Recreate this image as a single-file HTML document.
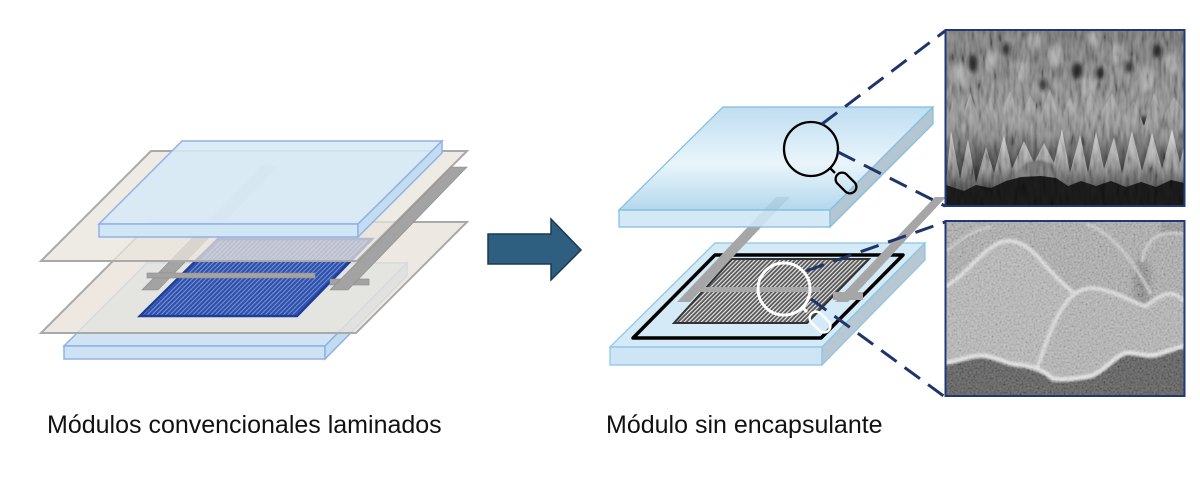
<!DOCTYPE html>
<html><head><meta charset="utf-8">
<style>
html,body{margin:0;padding:0;background:#fff;}
body{width:1200px;height:496px;overflow:hidden;position:relative;}
svg{position:absolute;left:0;top:0;}
.t{font-family:"Liberation Sans",Arial,sans-serif;font-size:25px;fill:#111;}
</style></head><body>
<svg width="1200" height="496" viewBox="0 0 1200 496" xmlns="http://www.w3.org/2000/svg">
<defs>
  <pattern id="blueStripes" width="3.2" height="10" patternUnits="userSpaceOnUse" patternTransform="rotate(45)">
    <rect width="3.2" height="10" fill="#2f50aa"/>
    <rect width="1" height="10" fill="#7894d8"/>
  </pattern>
  <pattern id="grayStripes" width="3" height="10" patternUnits="userSpaceOnUse" patternTransform="rotate(45)">
    <rect width="3" height="10" fill="#555"/>
    <rect width="1.2" height="10" fill="#e6e6e6"/>
  </pattern>
  <linearGradient id="topGlassR" x1="0" y1="0" x2="0" y2="1">
    <stop offset="0" stop-color="#b3d8ee"/>
    <stop offset="0.55" stop-color="#e6f3fa"/>
    <stop offset="1" stop-color="#a6d1ea"/>
  </linearGradient>
  <linearGradient id="g1bg" x1="0" y1="0" x2="0" y2="1">
    <stop offset="0" stop-color="#707070"/>
    <stop offset="0.35" stop-color="#808080"/>
    <stop offset="0.6" stop-color="#878787"/>
    <stop offset="0.8" stop-color="#404040"/>
    <stop offset="0.88" stop-color="#1c1c1c"/>
    <stop offset="1" stop-color="#141414"/>
  </linearGradient>
  <linearGradient id="g1mid" gradientUnits="userSpaceOnUse" x1="0" y1="58" x2="0" y2="148">
    <stop offset="0" stop-color="#a4a4a4"/>
    <stop offset="0.5" stop-color="#7c7c7c"/>
    <stop offset="1" stop-color="#2a2a2a"/>
  </linearGradient>
  <linearGradient id="g1front" gradientUnits="userSpaceOnUse" x1="0" y1="98" x2="0" y2="155">
    <stop offset="0" stop-color="#cdcdcd"/>
    <stop offset="0.5" stop-color="#999"/>
    <stop offset="1" stop-color="#505050"/>
  </linearGradient>
  <clipPath id="c1"><rect x="0" y="0" width="238" height="175"/></clipPath>
  <clipPath id="c2"><rect x="0" y="0" width="238" height="174"/></clipPath>
  <filter id="bl2" x="-50%" y="-50%" width="200%" height="200%"><feGaussianBlur stdDeviation="2"/></filter>
  <filter id="bl3" x="-50%" y="-50%" width="200%" height="200%"><feGaussianBlur stdDeviation="4"/></filter>
  <filter id="bl1" x="-20%" y="-20%" width="140%" height="140%"><feGaussianBlur stdDeviation="1"/></filter>
  <filter id="nz1" x="0" y="0" width="100%" height="100%">
    <feTurbulence type="fractalNoise" baseFrequency="0.25 0.06" numOctaves="2" seed="5"/>
    <feColorMatrix type="matrix" values="1.6 0 0 0 -0.3  1.6 0 0 0 -0.3  1.6 0 0 0 -0.3  0 0 0 0 1"/>
  </filter>
  <filter id="nz2" x="0" y="0" width="100%" height="100%">
    <feTurbulence type="fractalNoise" baseFrequency="0.5" numOctaves="2" seed="9"/>
    <feColorMatrix type="matrix" values="1.6 0 0 0 -0.3  1.6 0 0 0 -0.3  1.6 0 0 0 -0.3  0 0 0 0 1"/>
  </filter>
</defs>

<!-- ================= LEFT DIAGRAM ================= -->
<polygon points="147,263 407,263 325,346 64,346" fill="#cfe4f3" stroke="#93b0e6" stroke-width="1.5"/>
<polygon points="64,346 325,346 325,359 64,359" fill="#cde3f3" stroke="#93b0e6" stroke-width="1.5"/>
<polygon points="325,346 407,263 407,276 325,359" fill="#c2dcef" stroke="#93b0e6" stroke-width="1.5"/>
<polygon points="152,222 467,222 356,333 41,333" fill="#e9e4db" fill-opacity="0.8" stroke="#a9a9a9" stroke-width="2"/>
<polygon points="218,239 372,239 297,316 140,316" fill="url(#blueStripes)" stroke="#1e3c9a" stroke-width="2.5"/>
<polygon points="262,166 278,166 158,290 142,290" fill="#a3a3a3" stroke="#8a8a8a" stroke-width="0.6"/>
<rect x="147" y="273" width="168" height="5" fill="#a3a3a3" stroke="#8a8a8a" stroke-width="0.6"/>
<polygon points="151,151 467,151 357,261 41,261" fill="#e9e4db" fill-opacity="0.76" stroke="#a9a9a9" stroke-width="2"/>
<rect x="330" y="279" width="39" height="6" fill="#a3a3a3" stroke="#8a8a8a" stroke-width="0.6"/>
<polygon points="451,167 467,167 348,290 330,290" fill="#a3a3a3" stroke="#8a8a8a" stroke-width="0.6"/>
<polygon points="182,141 442,141 358,224 99,224" fill="#d6e9f6" fill-opacity="0.88" stroke="#93b0e6" stroke-width="1.5"/>
<polygon points="99,224 358,224 358,237 99,237" fill="#d0e6f5" stroke="#93b0e6" stroke-width="1.5"/>
<polygon points="358,224 442,141 442,153 358,237" fill="#c3dcef" stroke="#93b0e6" stroke-width="1.5"/>

<!-- arrow -->
<polygon points="488,234 551,234 551,219 581,250 551,280 551,264 488,264" fill="#2f5f80" stroke="#1c3a50" stroke-width="1.5"/>

<!-- ================= RIGHT DIAGRAM ================= -->
<polygon points="715,243 925,243 822,347 610,347" fill="#d4eaf7" stroke="#8cc4e4" stroke-width="1.2"/>
<polygon points="610,347 822,347 822,365 610,365" fill="#cde5f4" stroke="#8cc4e4" stroke-width="1.2"/>
<polygon points="822,347 925,243 925,260 822,365" fill="#b8c8d2" stroke="#8cc4e4" stroke-width="1.2"/>
<polygon points="715,255 903,255 821,338 633,338" fill="none" stroke="#000" stroke-width="3.5" stroke-linejoin="round"/>
<polygon points="732,259 869,259 807,323 674,323" fill="url(#grayStripes)" stroke="#333" stroke-width="2"/>
<rect x="700" y="287" width="120" height="5" fill="#a8a8a8"/>
<polygon points="776,197 790,197 690,302 677,302" fill="#a6a6a6"/>
<rect x="833" y="292" width="30" height="8" fill="#a6a6a6"/>
<polygon points="935,197 946,197 848,302 835,302" fill="#a6a6a6"/>
<circle cx="784" cy="289" r="26" fill="none" stroke="#fff" stroke-width="3"/>
<line x1="802" y1="307" x2="807" y2="312" stroke="#fff" stroke-width="3"/>
<rect x="-12" y="-6.5" width="24" height="13" rx="6.5" transform="translate(820,322) rotate(45)" fill="none" stroke="#fff" stroke-width="2.5"/>
<polygon points="723,107 933,107 830,210 619,210" fill="url(#topGlassR)" fill-opacity="0.85" stroke="#7fbde0" stroke-width="1.2"/>
<polygon points="619,210 830,210 830,227 619,227" fill="#cfe6f4" fill-opacity="0.9" stroke="#7fbde0" stroke-width="1.2"/>
<polygon points="830,210 933,107 933,124 830,227" fill="#b4c6d2" stroke="#7fbde0" stroke-width="1.2"/>
<circle cx="811" cy="149" r="27" fill="none" stroke="#000" stroke-width="2.3"/>
<line x1="830" y1="168" x2="835" y2="173" stroke="#000" stroke-width="2.3"/>
<rect x="-12" y="-6.5" width="24" height="13" rx="6.5" transform="translate(846,183) rotate(45)" fill="none" stroke="#000" stroke-width="2.3"/>

<g stroke="#1f3468" stroke-width="3" stroke-dasharray="19 10" fill="none">
  <line x1="822" y1="124" x2="945" y2="31"/>
  <line x1="838" y1="152" x2="945" y2="206"/>
  <line x1="806" y1="271" x2="945" y2="222"/>
  <line x1="811" y1="299" x2="945" y2="397"/>
</g>

<!-- ================= SEM TOP ================= -->
<g transform="translate(946,31)" clip-path="url(#c1)">
  <rect width="238" height="175" fill="url(#g1bg)"/>
  <g fill="#a4a4a4" filter="url(#bl2)" opacity="0.8">
    <ellipse cx="15" cy="45" rx="6" ry="12"/>
    <ellipse cx="45" cy="30" rx="5" ry="12"/>
    <ellipse cx="75" cy="40" rx="7" ry="10"/>
    <ellipse cx="110" cy="25" rx="6" ry="12"/>
    <ellipse cx="142" cy="55" rx="6" ry="10"/>
    <ellipse cx="170" cy="22" rx="6" ry="10"/>
    <ellipse cx="200" cy="48" rx="7" ry="12"/>
    <ellipse cx="226" cy="32" rx="5" ry="10"/>
    <ellipse cx="88" cy="10" rx="6" ry="8"/>
    <ellipse cx="150" cy="8" rx="6" ry="8"/>
  </g>
  <g fill="#151515" filter="url(#bl2)" opacity="0.9">
    <ellipse cx="27" cy="32" rx="4" ry="9"/>
    <ellipse cx="131" cy="40" rx="5" ry="8"/>
    <ellipse cx="154" cy="42" rx="4" ry="6"/>
    <ellipse cx="211" cy="20" rx="4" ry="7"/>
    <ellipse cx="183" cy="36" rx="3" ry="6"/>
    <ellipse cx="60" cy="18" rx="3" ry="6"/>
    <ellipse cx="97" cy="54" rx="3" ry="6"/>
    <ellipse cx="198" cy="92" rx="4" ry="8"/>
    <ellipse cx="24" cy="74" rx="3" ry="6"/>
  </g>
  <path d="M0,120 L6,70 L14,95 L24,62 L34,90 L44,66 L52,92 L64,60 L74,88 L84,64 L94,85 L104,58 L114,90 L124,66 L134,92 L144,60 L154,84 L166,62 L176,88 L188,70 L198,95 L208,62 L218,86 L228,66 L238,80 L238,175 L0,175 Z" fill="url(#g1mid)"/>
  <path d="M0,152 L5,100 L14,148 L22,108 L30,152 L40,116 L48,142 L58,104 L66,138 L78,110 L88,132 L98,112 L108,132 L116,98 L124,142 L134,104 L142,142 L150,100 L158,138 L168,106 L176,142 L186,100 L196,140 L206,102 L216,138 L226,98 L234,132 L238,115 L238,175 L0,175 Z" fill="url(#g1front)"/>
  <path d="M72,140 C80,128 95,126 108,134 L112,150 L70,150 Z" fill="#6a6a6a" filter="url(#bl1)"/>
  <path d="M0,154 L18,160 L30,154 L45,157 L60,150 L75,146 L95,145 L110,147 L122,155 L135,150 L150,155 L165,150 L180,156 L195,151 L210,156 L225,149 L238,152 L238,175 L0,175 Z" fill="#171717"/>
  <rect width="238" height="175" filter="url(#nz1)" opacity="0.3" style="mix-blend-mode:overlay"/>
</g>
<rect x="945.5" y="30" width="239" height="176" fill="none" stroke="#1f3877" stroke-width="2"/>

<!-- ================= SEM BOTTOM ================= -->
<g transform="translate(946,222)" clip-path="url(#c2)">
  <rect width="238" height="174" fill="#a3a3a3"/>
  <rect x="215" y="0" width="23" height="12" fill="#8e8e8e" filter="url(#bl1)"/>
  <ellipse cx="196" cy="62" rx="8" ry="26" fill="#808080" filter="url(#bl3)"/>
  <path d="M196,40 C200,15 215,8 238,12" fill="none" stroke="#c6c6c6" stroke-width="3" filter="url(#bl1)"/>
  <path d="M140,2 C165,10 185,35 205,72" fill="none" stroke="#c4c4c4" stroke-width="3" filter="url(#bl1)"/>
  <path d="M0,30 C15,15 30,8 45,5" fill="none" stroke="#c0c0c0" stroke-width="3" filter="url(#bl1)"/>
  <path d="M0,64 C18,55 35,28 55,20 C68,16 80,22 92,35 C105,50 118,64 132,74 L132,174 L0,174 Z" fill="#adadad"/>
  <path d="M0,64 C18,55 35,28 55,20 C68,16 80,22 92,35 C105,50 118,64 132,74" fill="none" stroke="#d6d6d6" stroke-width="4" filter="url(#bl1)"/>
  <path d="M90,150 C100,120 110,90 125,75 C135,66 145,64 158,68 C175,72 190,82 200,84 C208,78 218,70 228,72 C233,74 238,78 238,80 L238,174 L90,174 Z" fill="#aaaaaa"/>
  <path d="M90,150 C100,120 110,90 125,75 C135,66 145,64 158,68 C175,72 190,82 200,84 C208,78 218,70 228,72 C233,74 238,78 238,80" fill="none" stroke="#d4d4d4" stroke-width="4" filter="url(#bl1)"/>
  <path d="M0,141 C15,138 30,132 40,134 C55,137 60,142 75,143 C90,145 100,150 107,157 C120,158 135,156 145,154 C160,148 170,133 180,131 C190,130 200,135 210,133 C220,130 230,126 238,124 L238,174 L0,174 Z" fill="#5e5e5e"/>
  <path d="M0,141 C15,138 30,132 40,134 C55,137 60,142 75,143 C90,145 100,150 107,157 C120,158 135,156 145,154 C160,148 170,133 180,131 C190,130 200,135 210,133 C220,130 230,126 238,124" fill="none" stroke="#dcdcdc" stroke-width="4.5" filter="url(#bl1)"/>
  <rect width="238" height="174" filter="url(#nz2)" opacity="0.3" style="mix-blend-mode:overlay"/>
</g>
<rect x="945.5" y="221" width="239" height="175" fill="none" stroke="#1f3877" stroke-width="2"/>

<text class="t" x="47" y="433">Módulos convencionales laminados</text>
<text class="t" x="606" y="433">Módulo sin encapsulante</text>
</svg>
</body></html>
